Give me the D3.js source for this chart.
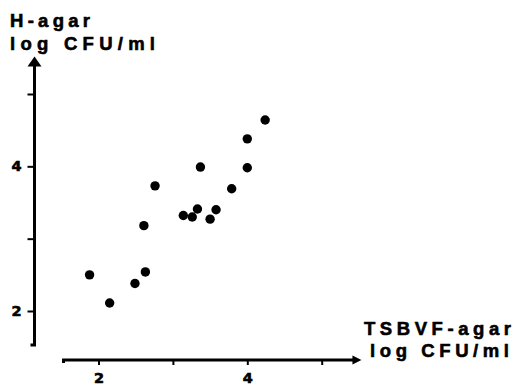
<!DOCTYPE html>
<html>
<head>
<meta charset="utf-8">
<script src="https://cdn.jsdelivr.net/npm/d3@7"></script>
<style>
  body { margin: 0; background: #fff; }
  svg { display: block; }
  text { font-family: "Liberation Sans", Arial, sans-serif; font-weight: bold; fill: #000; stroke: #000; stroke-width: 0.6px; }
  .tick text { font-family: "DejaVu Sans", sans-serif; font-size: 14.5px; }
</style>
</head>
<body>
<div id="viz"></div>
<script>
// TSBVF-agar (x) vs H-agar (y), log CFU/ml
const tsbvf = [1.88, 2.15, 2.49, 2.63, 2.61, 2.76, 3.14, 3.26, 3.33, 3.37, 3.50, 3.58, 3.79, 4.00, 4.00, 4.24];
const hagar = [2.50, 2.11, 2.38, 2.54, 3.18, 3.73, 3.32, 3.30, 3.41, 3.99, 3.27, 3.40, 3.69, 3.98, 4.38, 4.64];

const xTicks = [2, 3, 4, 5];
const xTickLabels = ["2", "", "4", ""];
const yTicks = [2, 3, 4, 5];
const yTickLabels = ["2", "", "4", ""];

var width = 513;
var height = 385;

var svg = d3.select('#viz')
  .append('svg')
  .attr('width', width)
  .attr('height', height);

const x = d3.scaleLinear()
  .domain([2, 4])
  .range([98.5, 247.3]);
const y = d3.scaleLinear()
  .domain([2, 5])
  .range([311, 94]);

var xAxisY = 360;
var yAxisX = 34.5;

// x axis
var gx = svg.append('g')
  .attr('transform', `translate(0,${xAxisY})`)
  .call(d3.axisBottom(x)
    .tickValues(xTicks)
    .tickFormat((d, i) => xTickLabels[i])
    .tickSize(5)
    .tickPadding(8)
    .tickSizeOuter(0));
gx.select('.domain').remove();
gx.selectAll('line').attr('stroke', '#000').attr('stroke-width', 2);

var xStart = x(1.53), xEnd = x(5.44);
svg.append('path')
  .attr('d', `M${xStart},${xAxisY + 3}V${xAxisY}H${xEnd}`)
  .attr('fill', 'none')
  .attr('stroke', '#000')
  .attr('stroke-width', 3);
svg.append('path')
  .attr('d', `M${xEnd - 2},${xAxisY - 4.5}L${xEnd + 7},${xAxisY}L${xEnd - 2},${xAxisY + 4.5}Z`)
  .attr('fill', '#000');

// y axis
var gy = svg.append('g')
  .attr('transform', `translate(${yAxisX},0)`)
  .call(d3.axisLeft(y)
    .tickValues(yTicks)
    .tickFormat((d, i) => yTickLabels[i])
    .tickSize(7)
    .tickPadding(6)
    .tickSizeOuter(0));
gy.select('.domain').remove();
gy.selectAll('line').attr('stroke', '#000').attr('stroke-width', 2);

var yStart = y(1.53), yEnd = y(5.42);
svg.append('path')
  .attr('d', `M${yAxisX - 4},${yStart}H${yAxisX}V${yEnd}`)
  .attr('fill', 'none')
  .attr('stroke', '#000')
  .attr('stroke-width', 3);
svg.append('path')
  .attr('d', `M${yAxisX - 7},${yEnd + 3}L${yAxisX},${yEnd - 7}L${yAxisX + 7},${yEnd + 3}Z`)
  .attr('fill', '#000');

// points
svg.append('g')
  .selectAll('circle')
  .data(tsbvf)
  .join('circle')
  .attr('cx', d => x(d))
  .attr('cy', (d, i) => y(hagar[i]))
  .attr('r', 4.7)
  .attr('fill', '#000');

// axis titles
function title(str, tx, ty, len) {
  svg.append('text')
    .attr('x', tx)
    .attr('y', ty)
    .attr('textLength', len)
    .attr('lengthAdjust', 'spacing')
    .style('font-size', '18.5px')
    .text(str);
}
title('H-agar', 10, 26.7, 80);
title('log CFU/ml', 10, 50, 145);
title('TSBVF-agar', 364, 335, 147);
title('log CFU/ml', 370, 356.7, 139);
</script>
</body>
</html>
